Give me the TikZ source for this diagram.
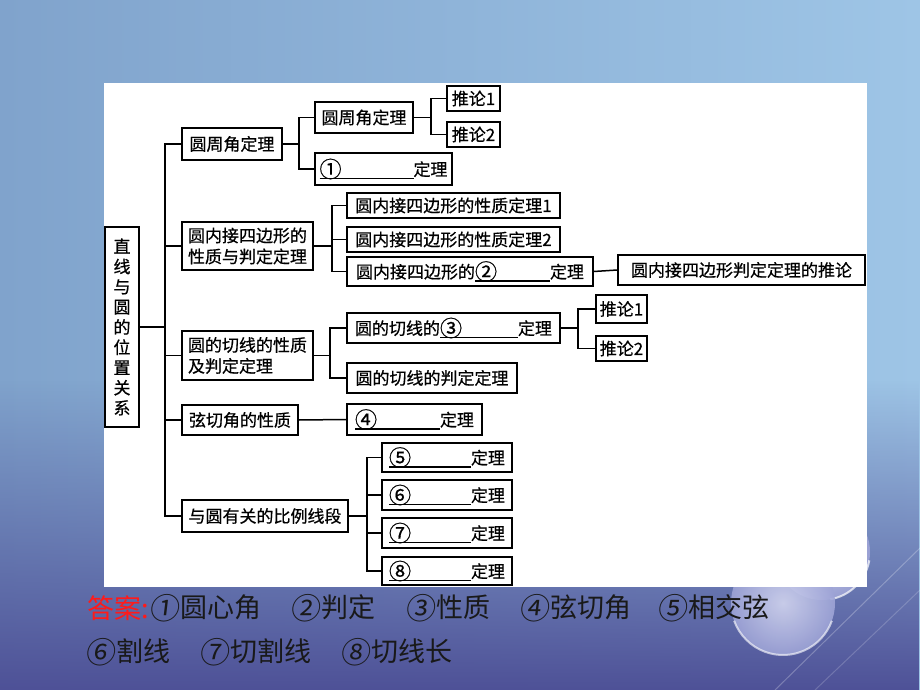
\documentclass[tikz,border=0pt]{standalone}
\usepackage{fontspec}
\setmainfont{Noto Sans CJK SC}
\newfontfamily\boxfamily[FakeBold=0.6]{Noto Sans CJK SC}
\newfontfamily\ansfamily{Noto Sans CJK SC}
\newfontfamily\slantnum[FakeSlant=0.12]{Noto Sans CJK SC}
\usetikzlibrary{fadings}
\definecolor{bgtopL}{HTML}{80A3CC}
\definecolor{bgtopR}{HTML}{9EC5E6}
\definecolor{bgbot}{HTML}{4E5197}
\definecolor{ansred}{HTML}{FF1A1A}
\definecolor{ballin}{HTML}{D2D5EF}
\definecolor{ballout}{HTML}{9DA3D6}
\tikzfading[name=fadedown, top color=transparent!100, bottom color=transparent!0]
% circled number in boxes and answers
\newcommand\cnum[1]{\raisebox{-0.1em}{\scalebox{1.3}{#1}}}
\newcommand\anum[1]{\makebox[31pt][l]{\raisebox{-1.5pt}{\scalebox{1.1}{\slantnum #1}}}}
% blank with underline: #1 symbol, #2 width
\newcommand\blankfill[2]{\makebox[#2][l]{\rlap{\rule[-3.5pt]{#2}{1.3pt}}\cnum{#1}}}
\newcommand\boxnode[6]{%
  \node[box, minimum width={(#4)-(#2)}, minimum height={(#5)-(#3)}] (#1)
    at ({((#2)+(#4))/2},{((#3)+(#5))/2}) {#6};}
\begin{document}
\begin{tikzpicture}[x=1pt,y=-1pt,
  box/.style={draw=black, line width=1.5pt, fill=white, inner sep=0pt,
    align=left, font=\boxfamily\fontsize{17}{21}\selectfont},
  conn/.style={line width=1.5pt, black},
  ans/.style={anchor=west, inner sep=0pt, text=black!90,
    font=\ansfamily\fontsize{27}{30}\selectfont}]
\useasboundingbox (0,0) rectangle (920,690);
% background
\shade[left color=bgtopL, right color=bgtopR] (0,0) rectangle (920,690);
\fill[bgbot, path fading=fadedown] (0,380) rectangle (920,690);
\draw[white, opacity=0.25, line width=1pt] (775,690) -- (920,548);
\draw[white, opacity=0.18, line width=1pt] (815,690) -- (920,590);
\shade[inner color=ballin, outer color=ballout, opacity=0.9] (822,552) circle (48pt);
\draw[white, opacity=0.7, line width=2pt] (822,552) ++(-10:48pt) arc[start angle=-10, end angle=-80, radius=48pt];
\shade[inner color=ballin, outer color=ballout, opacity=0.9] (783,603) circle (52pt);
\draw[white, opacity=0.6, line width=2pt] (783,603) ++(-20:52pt) arc[start angle=-20, end angle=-160, radius=52pt];
% white panel
\fill[white] (104,83) rectangle (867,587);
% nodes
\node[box, align=center, minimum width=34, minimum height=200,
  font=\boxfamily\fontsize{17}{20.2}\selectfont] (root) at (122,327)
  {直\\线\\与\\圆\\的\\位\\置\\关\\系};
\boxnode{g1}{182}{128}{282}{160}{圆周角定理}
\boxnode{g2}{182}{222}{313}{270}{圆内接四边形的\\性质与判定定理}
\boxnode{g3}{182}{331}{313}{380}{圆的切线的性质\\及判定定理}
\boxnode{g4}{182}{405}{298}{435}{弦切角的性质}
\boxnode{g5}{182}{500}{348}{532}{与圆有关的比例线段}
\boxnode{a1}{315}{102}{413}{133}{圆周角定理}
\boxnode{a2}{315}{153}{452}{185}{\blankfill{①}{94pt}定理}
\boxnode{p1}{447}{86}{500}{111}{推论1}
\boxnode{p2}{447}{122}{500}{147}{推论2}
\boxnode{b1}{347}{193}{560}{218}{圆内接四边形的性质定理1}
\boxnode{b2}{347}{227}{560}{252}{圆内接四边形的性质定理2}
\boxnode{b3}{347}{257}{593}{286}{圆内接四边形的\blankfill{②}{75pt}定理}
\boxnode{c}{618}{255}{865}{285}{圆内接四边形判定定理的推论}
\boxnode{d1}{347}{313}{560}{343}{圆的切线的\blankfill{③}{78pt}定理}
\boxnode{d2}{347}{363}{517}{393}{圆的切线的判定定理}
\boxnode{e1}{596}{295}{647}{323}{推论1}
\boxnode{e2}{596}{336}{647}{361}{推论2}
\boxnode{f}{347}{404}{482}{435}{\blankfill{④}{85pt}定理}
\boxnode{h1}{382}{443}{512}{472}{\blankfill{⑤}{82pt}定理}
\boxnode{h2}{382}{480}{512}{510}{\blankfill{⑥}{82pt}定理}
\boxnode{h3}{382}{518}{512}{548}{\blankfill{⑦}{82pt}定理}
\boxnode{h4}{382}{557}{512}{585}{\blankfill{⑧}{82pt}定理}
% junctions
\coordinate (sp) at (165,330);
\coordinate (j1) at (299,144);
\coordinate (j2) at (431,117.5);
\coordinate (j3) at (332,246);
\coordinate (j4) at (330,355.5);
\coordinate (j5) at (578,328);
\coordinate (j6) at (367,516);
% connectors
\draw[conn] (root.east) -- (root.east -| sp);
\draw[conn] (g1.west) -| (sp) |- (g5.west);
\draw[conn] (g2.west) -- (g2.west -| sp);
\draw[conn] (g3.west) -- (g3.west -| sp);
\draw[conn] (g4.west) -- (g4.west -| sp);
\draw[conn] (g1.east) -- (j1);
\draw[conn] (a1.west) -| (j1) |- (a2.west);
\draw[conn] (a1.east) -- (j2);
\draw[conn] (p1.west) -| (j2) |- (p2.west);
\draw[conn] (g2.east) -- (j3);
\draw[conn] (b1.west) -| (j3) |- (b3.west);
\draw[conn] (b2.west) -- (b2.west -| j3);
\draw[conn] (b3.east) -- (c.west);
\draw[conn] (g3.east) -- (j4);
\draw[conn] (d1.west) -| (j4) |- (d2.west);
\draw[conn] (d1.east) -- (j5);
\draw[conn] (e1.west) -| (j5) |- (e2.west);
\draw[conn] (g4.east) -- (f.west);
\draw[conn] (g5.east) -- (j6);
\draw[conn] (h1.west) -| (j6) |- (h4.west);
\draw[conn] (h2.west) -- (h2.west -| j6);
\draw[conn] (h3.west) -- (h3.west -| j6);
% answers
\node[ans, text=ansred] (ans0) at (87,608) {答案:};
\node[ans] (ans1) at (149,608) {\anum{①}圆心角};
\node[ans] (ans2) at (290,608) {\anum{②}判定};
\node[ans] (ans3) at (405,608) {\anum{③}性质};
\node[ans] (ans4) at (519,608) {\anum{④}弦切角};
\node[ans] (ans5) at (657,608) {\anum{⑤}相交弦};
\node[ans] (ans6) at (85,652) {\anum{⑥}割线};
\node[ans] (ans7) at (199,652) {\anum{⑦}切割线};
\node[ans] (ans8) at (340,652) {\anum{⑧}切线长};
\end{tikzpicture}
\end{document}
